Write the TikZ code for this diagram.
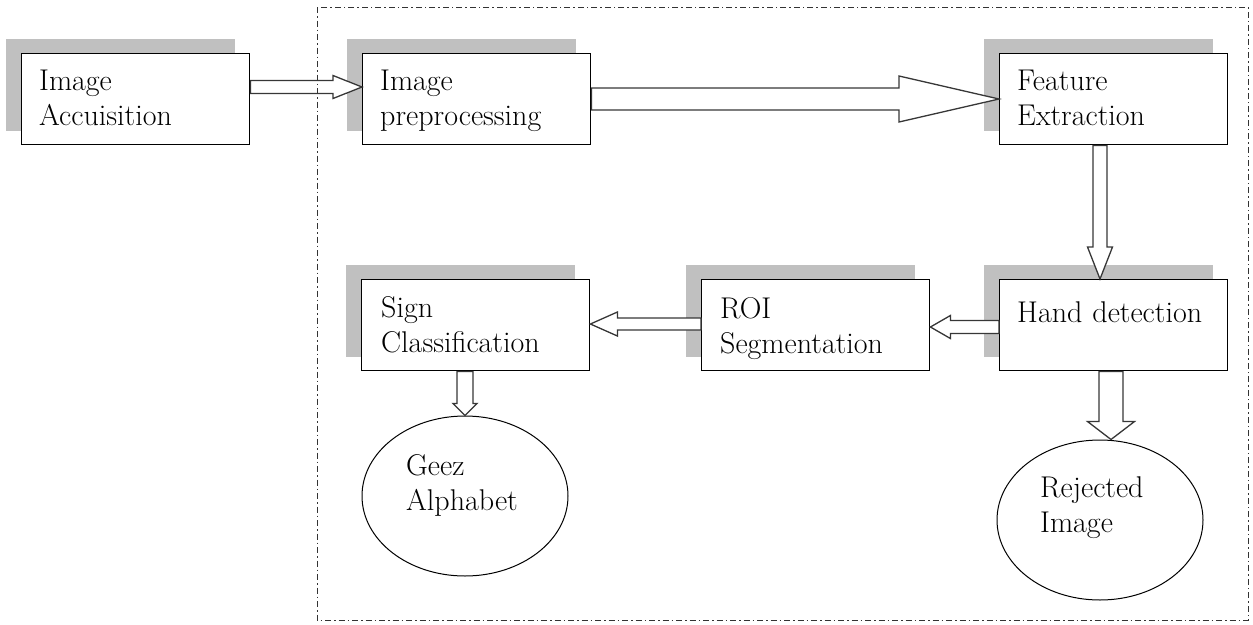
\documentclass[tikz,border=0pt]{standalone}
\usepackage{fontspec}
\usetikzlibrary{calc,backgrounds,shapes.geometric}
\definecolor{shadowgray}{RGB}{192,192,192}
\definecolor{arrowgray}{RGB}{55,55,55}
\tikzset{
  procbox/.style={draw=black, line width=1.4pt, fill=white, anchor=north west,
    inner sep=0pt, minimum width=228pt, minimum height=91pt},
  lbl/.style={anchor=base west, inner sep=0pt, text width=210pt, align=left,
    font=\fontsize{30}{35}\selectfont},
  endnode/.style={draw=black, line width=1pt, ellipse, inner sep=0pt,
    minimum width=206pt, minimum height=160pt},
  arrowline/.style={draw=arrowgray, line width=1.3pt, fill=white, line join=miter},
  shadowbox/.style={fill=shadowgray},
  frameline/.style={draw=black!80, line width=0.9pt, dash pattern=on 6pt off 3pt on 1.5pt off 3pt}
}
\newcommand\blockarrow[5]{%
  \coordinate (bahead) at ($(#2)!#5!(#1)$);
  \draw[arrowline] ($(#1)!#3!90:(#2)$) -- ($(bahead)!#3!90:(#2)$) -- ($(bahead)!#4!90:(#2)$)
    -- (#2) -- ($(bahead)!#4!-90:(#2)$) -- ($(bahead)!#3!-90:(#2)$) -- ($(#1)!#3!-90:(#2)$) -- cycle;
}
\begin{document}
\begin{tikzpicture}[x=1pt,y=-1pt]
\useasboundingbox (0,0) rectangle (1253,624);
% boxes
\node[procbox] (acq)  at (21,53)  {};
\node[procbox] (prep) at (362,53) {};
\node[procbox] (feat) at (999,53) {};
\node[procbox] (hand) at (999,279) {};
\node[procbox] (roi)  at (701,279) {};
\node[procbox] (sign) at (361,279) {};
% shadows
\begin{scope}[on background layer]
  \foreach \b in {acq,prep,feat,hand,roi,sign}{
    \fill[shadowbox] ([shift={(-15,-14)}]\b.north west) rectangle ([shift={(-15,-14)}]\b.south east);
  }
\end{scope}
% ellipses
\node[endnode] (geez) at (465,496) {};
\node[endnode] (rej)  at (1100,520) {};
% labels
\node[lbl] (acqt)  at (39,90)   {Image\\Accuisition};
\node[lbl] (prept) at (380,90)  {Image\\preprocessing};
\node[lbl] (featt) at (1017,90) {Feature\\Extraction};
\node[lbl] (handt) at (1017,322) {Hand detection};
\node[lbl] (roit)  at (720,318) {ROI\\Segmentation};
\node[lbl] (signt) at (381,317) {Sign\\Classification};
\node[lbl] (geezt) at (406,475) {Geez\\Alphabet};
\node[lbl] (rejt)  at (1040,497) {Rejected\\Image};
% arrow end points
\coordinate (a1s) at ($(acq.north east)+(0,34)$);
\coordinate (a1e) at (prep.west |- a1s);
\coordinate (a2s) at ($(prep.north east)+(0,46)$);
\coordinate (a2e) at (feat.west |- a2s);
\coordinate (a3s) at ($(feat.south west)+(101,0)$);
\coordinate (a3e) at (hand.north -| a3s);
\coordinate (a4s) at ($(hand.north west)+(0,48)$);
\coordinate (a4e) at (roi.east |- a4s);
\coordinate (a5s) at ($(roi.north west)+(0,45)$);
\coordinate (a5e) at (sign.east |- a5s);
\coordinate (a6s) at ($(sign.south west)+(104,0)$);
\coordinate (a6e) at (geez.north -| a6s);
\coordinate (a7s) at ($(hand.south west)+(112,0)$);
\coordinate (a7e) at (rej.north -| a7s);
% block arrows
\blockarrow{a1s}{a1e}{6.5pt}{11.5pt}{29pt}
\blockarrow{a2s}{a2e}{11pt}{23pt}{100pt}
\blockarrow{a3s}{a3e}{7pt}{12.5pt}{32pt}
\blockarrow{a4s}{a4e}{6.5pt}{11.5pt}{20pt}
\blockarrow{a5s}{a5e}{6pt}{12pt}{27pt}
\blockarrow{a6s}{a6e}{8pt}{12pt}{12pt}
\blockarrow{a7s}{a7e}{12pt}{23.5pt}{18pt}
% dashed frame
\draw[frameline] (317,7) rectangle (1248,620);
\end{tikzpicture}
\end{document}
